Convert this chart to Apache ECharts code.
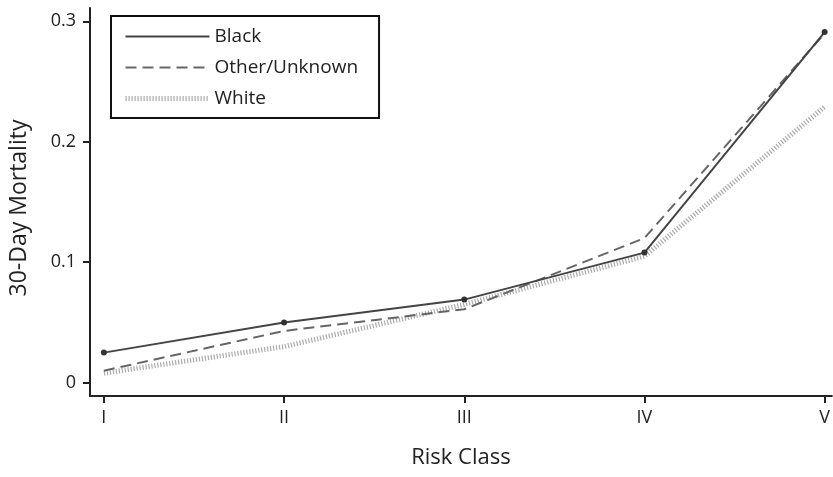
<!DOCTYPE html>
<html><head><meta charset="utf-8">
<script src="https://cdn.jsdelivr.net/npm/echarts@6/dist/echarts.min.js"></script>
<style>html,body{margin:0;padding:0;background:#fff}#c{width:833px;height:477px}</style>
</head><body><div id="c"></div>
<script>
const categories = ['I', 'II', 'III', 'IV', 'V'];
const classPos = [1, 2, 3, 4, 5];
const black = [0.025, 0.050, 0.069, 0.108, 0.291];
const otherUnknown = [0.010, 0.043, 0.061, 0.120, 0.290];
const white = [0.008, 0.030, 0.065, 0.105, 0.229];
const yTicks = [0, 0.1, 0.2, 0.3];
const yTickLabels = ['0', '0.1', '0.2', '0.3'];

const font = 'Open Sans';
const pair = arr => classPos.map((x, i) => [x, arr[i]]);
const chart = echarts.init(document.getElementById('c'), null, {renderer: 'canvas'});
chart.setOption({
  animation: false,
  textStyle: {fontFamily: font},
  grid: {left: 88, right: 0, top: 8, bottom: 81},
  legend: {
    orient: 'vertical', left: 111, top: 16,
    padding: [11, 21, 10, 12], itemGap: 12,
    itemWidth: 84, itemHeight: 20,
    borderColor: '#111', borderWidth: 2,
    itemStyle: {opacity: 0},
    textStyle: {fontSize: 19, color: '#222', fontFamily: font},
    data: [
      {name: 'Black', lineStyle: {width: 2}},
      {name: 'Other/Unknown', lineStyle: {width: 2}},
      {name: 'White', lineStyle: {width: 5}}
    ]
  },
  xAxis: {
    type: 'value', min: 0.923, max: 5.04,
    name: 'Risk Class', nameLocation: 'middle', nameGap: 51,
    nameTextStyle: {fontSize: 22, color: '#222', fontFamily: font},
    axisLine: {show: true, onZero: false, lineStyle: {color: '#222', width: 2}},
    axisTick: {show: true, length: 7, customValues: classPos, lineStyle: {color: '#222', width: 2}},
    axisLabel: {customValues: classPos, fontSize: 18, color: '#222', margin: 13,
      formatter: v => categories[Math.round(v) - 1]},
    splitLine: {show: false}
  },
  yAxis: {
    type: 'value', min: -0.011, max: 0.311,
    name: '30-Day Mortality', nameLocation: 'middle', nameGap: 59, nameRotate: 90,
    nameTextStyle: {fontSize: 23, color: '#222', fontFamily: font, padding: [0, 12, 0, 0]},
    axisLine: {show: true, onZero: false, lineStyle: {color: '#222', width: 2}},
    axisTick: {show: true, length: 7, customValues: yTicks, lineStyle: {color: '#222', width: 2}},
    axisLabel: {customValues: yTicks, fontSize: 18, color: '#222', margin: 14,
      formatter: v => yTickLabels[yTicks.findIndex(t => Math.abs(t - v) < 1e-9)]},
    splitLine: {show: false}
  },
  series: [
    {name: 'Black', type: 'line', data: pair(black), symbol: 'circle', symbolSize: 6,
      itemStyle: {color: '#333'}, lineStyle: {color: '#444', width: 2, type: 'solid'}, z: 3},
    {name: 'Other/Unknown', type: 'line', data: pair(otherUnknown), showSymbol: false, symbol: 'none',
      itemStyle: {color: '#666'}, lineStyle: {color: '#666', width: 2, type: [11, 6]}, z: 2},
    {name: 'White', type: 'line', data: pair(white), showSymbol: false, symbol: 'none',
      itemStyle: {color: '#aaa'}, lineStyle: {color: '#aaa', width: 5, type: [1.2, 1.8]}, z: 1}
  ]
});
</script></body></html>
